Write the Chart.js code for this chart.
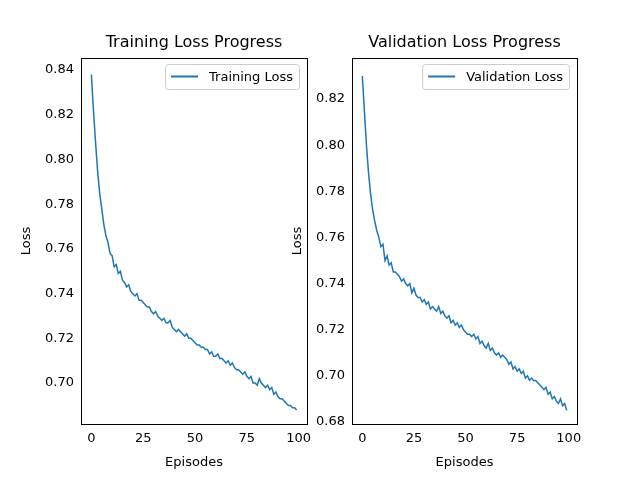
<!DOCTYPE html>
<html><head><script src="https://cdn.jsdelivr.net/npm/chart.js@4"></script>
<style>body{margin:0;background:#fff}canvas{position:absolute;top:0}</style></head>
<body>
<canvas id="c1" width="320" height="480" style="left:0"></canvas>
<canvas id="c2" width="360" height="480" style="left:280px"></canvas>
<script>
const episodes = Array.from({length: 100}, (_, i) => i);
const trainLoss = [0.838,0.822,0.808,0.795,0.785,0.778,0.771,0.766,0.763,0.758,0.757,0.752,0.753,0.749,0.750,0.746,0.745,0.743,0.744,0.741,
0.740,0.739,0.740,0.737,0.737,0.736,0.735,0.734,0.734,0.732,0.731,0.732,0.730,0.729,0.728,0.729,0.727,0.727,0.728,0.725,
0.724,0.723,0.724,0.723,0.722,0.721,0.722,0.720,0.720,0.719,0.718,0.717,0.717,0.716,0.716,0.715,0.715,0.713,0.714,0.712,
0.712,0.713,0.711,0.711,0.710,0.709,0.710,0.708,0.709,0.707,0.706,0.706,0.705,0.704,0.705,0.703,0.702,0.703,0.700,0.700,
0.699,0.702,0.700,0.699,0.698,0.699,0.697,0.698,0.695,0.696,0.694,0.693,0.693,0.692,0.691,0.690,0.690,0.689,0.689,0.688];
const valLoss = [0.830,0.815,0.800,0.788,0.779,0.772,0.767,0.763,0.760,0.756,0.757,0.750,0.752,0.748,0.749,0.745,0.745,0.744,0.743,0.741,
0.742,0.740,0.739,0.740,0.736,0.738,0.735,0.734,0.734,0.732,0.733,0.731,0.732,0.729,0.730,0.729,0.728,0.730,0.727,0.728,
0.726,0.725,0.726,0.723,0.724,0.722,0.723,0.721,0.722,0.720,0.719,0.718,0.718,0.717,0.718,0.716,0.717,0.714,0.715,0.713,
0.712,0.714,0.711,0.712,0.710,0.709,0.710,0.708,0.709,0.708,0.707,0.705,0.706,0.703,0.704,0.702,0.703,0.701,0.702,0.699,
0.700,0.698,0.699,0.698,0.698,0.697,0.696,0.695,0.694,0.695,0.692,0.693,0.690,0.691,0.689,0.688,0.690,0.687,0.688,0.685];
const xTicks = [0, 25, 50, 75, 100];

const FONT = 'DejaVu Sans';
const BLUE = '#1f77b4';

// frame, centred title and in-plot legend, matplotlib style
const axesDecor = {
  id: 'axesDecor',
  afterDraw(chart, args, opts) {
    const c = chart.ctx, a = chart.chartArea;
    c.save();
    c.strokeStyle = '#000'; c.lineWidth = 1;
    c.strokeRect(Math.round(a.left) + 0.5, Math.round(a.top) + 0.5, Math.round(a.right - a.left), Math.round(a.bottom - a.top));
    c.fillStyle = '#000'; c.textAlign = 'center'; c.textBaseline = 'middle';
    c.font = '16px ' + FONT;
    c.fillText(opts.title, (a.left + a.right) / 2, 43);
    c.textAlign = 'left';
    c.font = '13px ' + FONT;
    const w = c.measureText(opts.text).width + 50, h = 25;
    const x = a.right - 8 - w, y = a.top + 6;
    c.strokeStyle = '#ccc'; c.fillStyle = 'rgba(255,255,255,0.8)';
    c.beginPath(); c.roundRect(x + 0.5, y + 0.5, w, h, 3); c.fill(); c.stroke();
    c.strokeStyle = BLUE; c.lineWidth = 2;
    c.beginPath(); c.moveTo(x + 6, y + h / 2); c.lineTo(x + 33, y + h / 2); c.stroke();
    c.fillStyle = '#000'; c.textBaseline = 'middle';
    c.fillText(opts.text, x + 44, y + h / 2 + 1);
    c.restore();
  }
};

function lossChart(id, title, label, data, yMin, yMax, yStep, pad) {
  return new Chart(document.getElementById(id), {
    type: 'line',
    data: { datasets: [{ label: label, data: episodes.map((e, i) => ({x: e, y: data[i]})),
      borderColor: BLUE, borderWidth: 1.5, pointRadius: 0, tension: 0 }] },
    options: {
      responsive: false, animation: false,
      layout: { padding: pad },
      plugins: {
        legend: { display: false }, tooltip: { enabled: false },
        axesDecor: { text: label, title: title }
      },
      scales: {
        x: { type: 'linear', min: -5, max: 104,
          afterBuildTicks: s => { s.ticks = xTicks.map(v => ({value: v})); },
          afterFit: s => { s.height = 46; },
          grid: { display: false, drawTicks: true, tickLength: 4, tickColor: '#000' },
          border: { color: '#000' },
          ticks: { color: '#000', font: { family: FONT, size: 13 }, padding: 3, maxRotation: 0 },
          title: { display: true, text: 'Episodes', color: '#000', font: { family: FONT, size: 13 }, padding: 0 } },
        y: { min: yMin, max: yMax,
          afterBuildTicks: s => { const t = []; for (let v = Math.ceil(yMin / yStep) * yStep; v <= yMax; v += yStep) t.push({value: +v.toFixed(2)}); s.ticks = t; },
          afterFit: s => { s.width = 62; },
          grid: { display: false, drawTicks: true, tickLength: 4, tickColor: '#000' },
          border: { color: '#000' },
          ticks: { color: '#000', font: { family: FONT, size: 13 }, padding: 3, callback: v => v.toFixed(2) },
          title: { display: true, text: 'Loss', color: '#000', font: { family: FONT, size: 13 }, padding: 0 } }
      }
    },
    plugins: [axesDecor]
  });
}

lossChart('c1', 'Training Loss Progress', 'Training Loss', trainLoss, 0.6817, 0.8454, 0.02, { left: 19, right: 13, bottom: 10, top: 58 });
lossChart('c2', 'Validation Loss Progress', 'Validation Loss', valLoss, 0.6791, 0.8378, 0.02, { left: 10, right: 63, bottom: 10, top: 58 });
</script>
</body></html>
